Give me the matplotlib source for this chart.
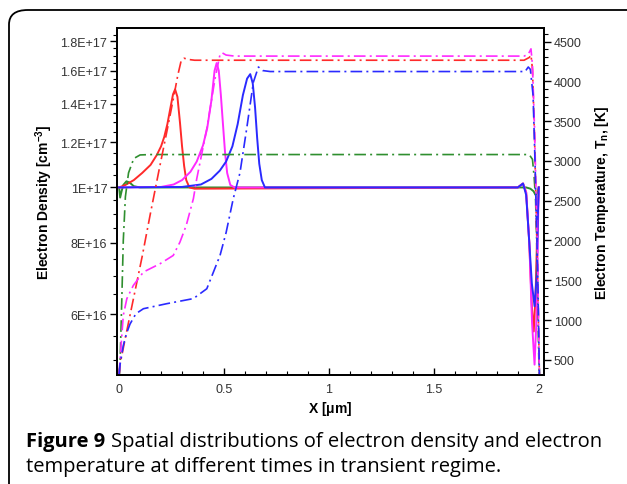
import matplotlib.pyplot as plt
import numpy as np
from matplotlib.patches import FancyBboxPatch
from matplotlib.ticker import FixedLocator, MultipleLocator, NullFormatter

# Densidade de eletrons (solido, eixo esquerdo), em 1E17 cm^-3
x_n_verde = [0, 0.005, 0.012, 0.02, 0.035, 0.05, 0.07, 0.1, 1.9, 1.94, 1.96, 1.975, 1.985, 1.993, 2.0]
n_verde = [1.0, 0.96, 0.985, 1.01, 1.025, 1.02, 1.005, 1.0, 1.0, 1.0, 0.995, 0.985, 0.97, 0.98, 1.0]

x_n_verm = [0, 0.03, 0.07, 0.11, 0.15, 0.18, 0.2, 0.215, 0.23, 0.245, 0.257, 0.267, 0.278, 0.29, 0.3, 0.31,
            0.32, 0.335, 0.36, 1.9, 1.925, 1.94, 1.955, 1.967, 1.976, 1.985, 1.993, 2.0]
n_verm = [1.0, 1.01, 1.03, 1.06, 1.095, 1.14, 1.18, 1.225, 1.29, 1.38, 1.455, 1.484, 1.44, 1.3, 1.18, 1.09,
          1.03, 1.0, 0.995, 1.0, 1.016, 0.98, 0.8, 0.62, 0.56, 0.65, 0.85, 1.0]

x_n_mag = [0, 0.2, 0.26, 0.3, 0.34, 0.37, 0.4, 0.42, 0.44, 0.455, 0.465, 0.475, 0.485, 0.495, 0.505, 0.515,
           0.53, 0.55, 1.9, 1.925, 1.94, 1.955, 1.968, 1.98, 1.99, 1.996, 2.0]
n_mag = [1.0, 1.002, 1.012, 1.03, 1.065, 1.11, 1.185, 1.27, 1.42, 1.6, 1.65, 1.6, 1.45, 1.29, 1.15, 1.06,
         1.01, 1.0, 1.0, 1.016, 0.98, 0.8, 0.58, 0.49, 0.6, 0.85, 1.0]

x_n_azul = [0, 0.3, 0.39, 0.44, 0.48, 0.51, 0.54, 0.565, 0.59, 0.61, 0.625, 0.637, 0.648, 0.658, 0.668,
            0.68, 0.695, 0.72, 1.9, 1.925, 1.94, 1.955, 1.967, 1.98, 1.99, 1.996, 2.0]
n_azul = [1.0, 1.002, 1.012, 1.035, 1.07, 1.11, 1.18, 1.29, 1.45, 1.55, 1.578, 1.52, 1.38, 1.22, 1.1,
          1.03, 1.0, 1.0, 1.0, 1.016, 0.97, 0.8, 0.68, 0.62, 0.7, 0.9, 1.0]

# Temperatura de eletrons (traco-ponto, eixo direito), em K
x_t_verde = [0, 0.005, 0.013, 0.02, 0.03, 0.045, 0.07, 0.1, 0.15, 1.94, 1.957, 1.97, 1.978, 1.985, 1.992,
             1.998, 2.002]
t_verde = [300, 500, 1270, 2000, 2550, 2850, 3030, 3075, 3080, 3080, 3070, 3020, 2800, 2500, 1800, 800, 300]

x_t_verm = [0, 0.005, 0.03, 0.07, 0.11, 0.15, 0.19, 0.23, 0.26, 0.28, 0.295, 0.31, 0.33, 0.36, 1.93, 1.955,
            1.963, 1.97, 1.98, 1.988, 1.995, 2.0, 2.003]
t_verm = [310, 450, 780, 1290, 1800, 2350, 2880, 3400, 3800, 4080, 4250, 4290, 4275, 4265, 4265, 4300,
          4330, 4150, 3300, 2300, 1500, 800, 310]

x_t_mag = [0, 0.01, 0.02, 0.037, 0.068, 0.116, 0.195, 0.258, 0.29, 0.32, 0.354, 0.37, 0.418, 0.457, 0.48,
           0.49, 0.51, 0.55, 1.93, 1.95, 1.963, 1.97, 1.98, 1.995, 2.0, 2.003]
t_mag = [320, 700, 1060, 1270, 1436, 1604, 1708, 1812, 1980, 2190, 2525, 2775, 3404, 4030, 4325, 4360,
         4330, 4317, 4317, 4340, 4408, 4200, 3404, 1733, 800, 310]

x_t_azul = [0, 0.005, 0.02, 0.035, 0.052, 0.08, 0.116, 0.227, 0.354, 0.418, 0.481, 0.51, 0.544, 0.576,
            0.608, 0.64, 0.664, 0.685, 0.72, 1.935, 1.95, 1.96, 1.973, 1.982, 1.995, 2.0, 2.003]
t_azul = [320, 450, 680, 830, 950, 1080, 1143, 1206, 1270, 1394, 1812, 2100, 2525, 2850,
          3404, 3990, 4180, 4135, 4123, 4123, 4180, 4150, 3822, 3000, 1600, 800, 310]

cores = {'verde': '#2f8f2f', 'verm': '#ff2a2a', 'mag': '#ff2aff', 'azul': '#2a2aff'}

densidades = [('verde', x_n_verde, n_verde), ('verm', x_n_verm, n_verm),
              ('mag', x_n_mag, n_mag), ('azul', x_n_azul, n_azul)]
temperaturas = [('verde', x_t_verde, t_verde), ('verm', x_t_verm, t_verm),
                ('mag', x_t_mag, t_mag), ('azul', x_t_azul, t_azul)]

fig = plt.figure(figsize=(6.27, 4.85), dpi=100)
ax = fig.add_axes([117 / 627, 1 - 376 / 485, 427 / 627, 347 / 485])
ax2 = ax.twinx()

tracejado = (0, (7, 2.5, 1.2, 2.5))
for nome, xs, ts in temperaturas:
    ax2.plot(xs, ts, color=cores[nome], lw=1.2, linestyle=tracejado)
for nome, xs, ns in densidades:
    ax.plot(xs, np.array(ns) * 1e17, color=cores[nome], lw=1.4)

fonte = 'Liberation Sans'
ax.set_yscale('log')
ax.set_xlim(-0.01, 2.025)
ax.set_ylim(4.7e16, 1.9e17)
ax2.set_ylim(310, 4670)

maiores = [6e16, 8e16, 1e17, 1.2e17, 1.4e17, 1.6e17, 1.8e17]
rotulos = ['6E+16', '8E+16', '1E+17', '1.2E+17', '1.4E+17', '1.6E+17', '1.8E+17']
ax.yaxis.set_major_locator(FixedLocator(maiores))
ax.yaxis.set_minor_locator(FixedLocator([v * 1e15 for v in range(50, 190, 5) if v % 20 != 0]))
ax.yaxis.set_minor_formatter(NullFormatter())
ax.set_yticklabels(rotulos)
ax.set_xticks([0, 0.5, 1, 1.5, 2])
ax.set_xticklabels(['0', '0.5', '1', '1.5', '2'])
ax.xaxis.set_minor_locator(MultipleLocator(0.1))
ax2.yaxis.set_major_locator(MultipleLocator(500))
ax2.yaxis.set_minor_locator(MultipleLocator(100))

ax.tick_params(axis='y', which='major', direction='out', length=5, width=1, labelsize=9, pad=2)
ax.tick_params(axis='y', which='minor', direction='out', length=3, width=0.8)
ax.tick_params(axis='x', which='major', direction='in', length=5, width=1, labelsize=9, pad=6, top=False)
ax.tick_params(axis='x', which='minor', direction='in', length=3, width=0.8, top=False)
ax2.tick_params(axis='y', which='major', direction='out', length=5, width=1, labelsize=9, pad=2)
ax2.tick_params(axis='y', which='minor', direction='out', length=3, width=0.8)
for a in (ax, ax2):
    for t in a.get_xticklabels() + a.get_yticklabels():
        t.set_fontfamily(fonte)
        t.set_color('#333333')
    for s in a.spines.values():
        s.set_linewidth(1.3)

ax.set_xlabel('X [$\\mathregular{\\mu}$m]', fontsize=10, fontweight='bold', family=fonte, labelpad=3)
ax.set_ylabel('Electron Density [cm$^\\mathregular{-3}$]', fontsize=10, fontweight='bold', family=fonte,
              labelpad=4)
ax2.set_ylabel('Electron Temperature, T$_\\mathregular{n}$, [K]', fontsize=10, fontweight='bold',
               family=fonte, labelpad=8)

# Moldura arredondada
moldura = FancyBboxPatch((9 / 627, -0.2), 1.2, 1 - 11 / 485 + 0.2, boxstyle='round,pad=0,rounding_size=0.03',
                         transform=fig.transFigure, fill=False, lw=1.3, ec='black', clip_on=False)
fig.patches.append(moldura)

# Legenda da figura
t1 = fig.text(26 / 627, 1 - 447 / 485, 'Figure 9', fontsize=14.5, fontweight='bold', family='Open Sans',
              va='baseline')
fig.canvas.draw()
bb = t1.get_window_extent()
fig.text(bb.x1 / 627 + 0.009, 1 - 447 / 485,
         'Spatial distributions of electron density and electron', fontsize=14.5, family='Open Sans',
         va='baseline')
fig.text(26 / 627, 1 - 472 / 485, 'temperature at different times in transient regime.', fontsize=14.5,
         family='Open Sans', va='baseline')

fig.savefig('out.png', dpi=100)
